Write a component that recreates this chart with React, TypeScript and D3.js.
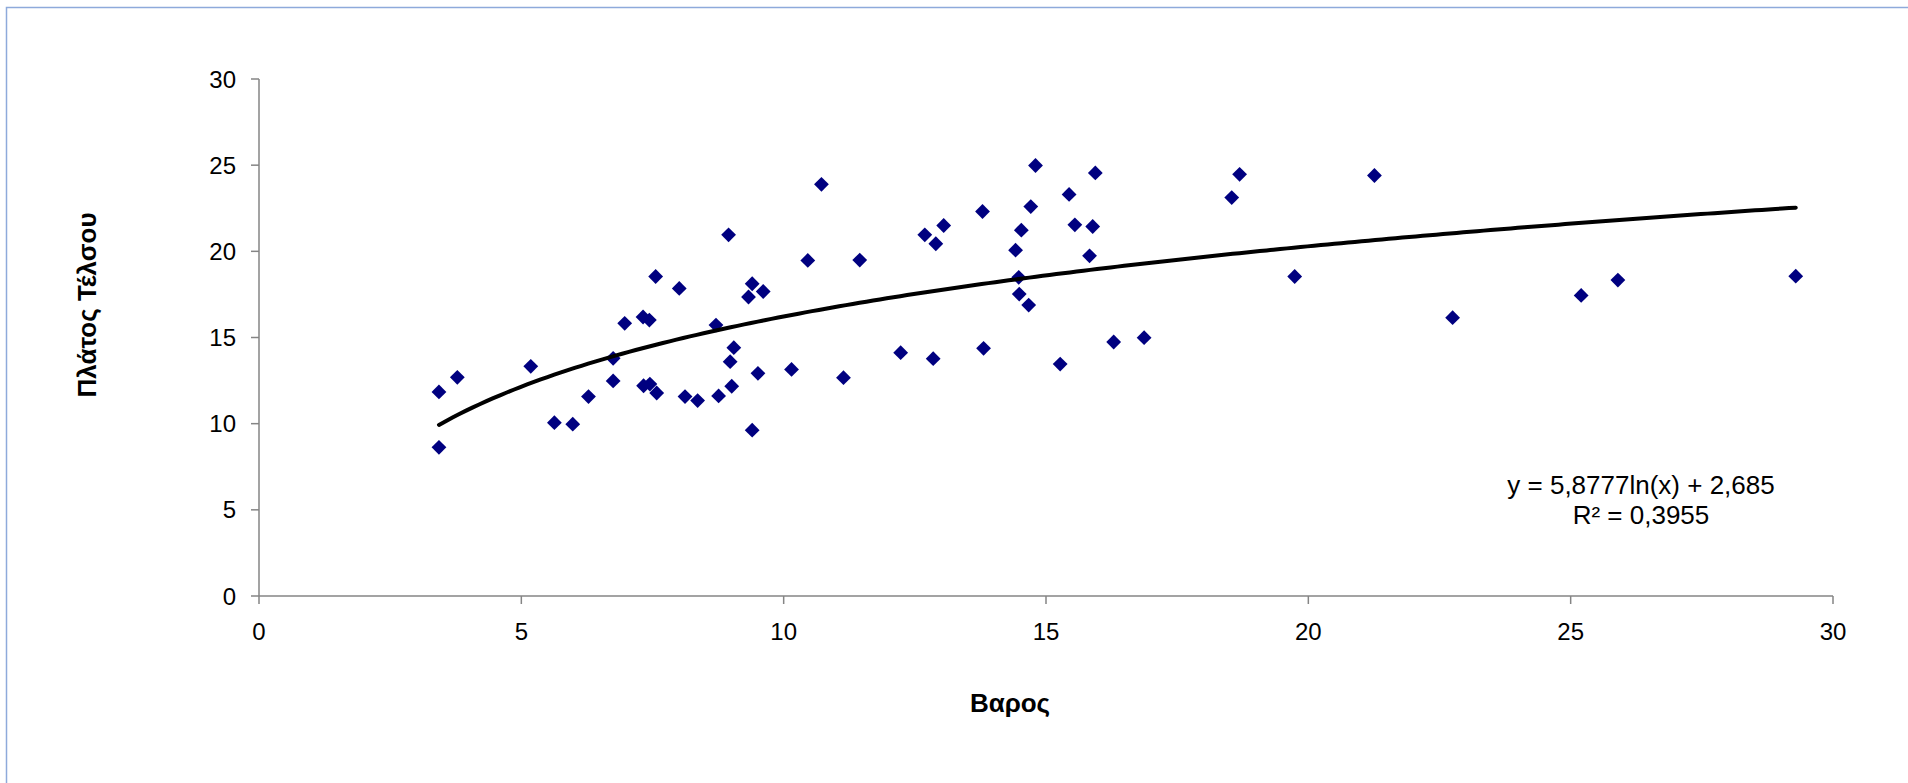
import React from "react";
import * as d3 from "d3";

const weightX: number[] = [
  3.43, 3.78, 3.43, 5.18, 5.63, 5.98, 6.28, 6.75, 6.75, 6.97,
  7.32, 7.44, 7.56, 8.01, 7.33, 7.45, 7.58, 8.12, 8.36, 8.71,
  8.76, 8.95, 9.05, 8.98, 9.01, 9.40, 9.33, 9.61, 9.51, 9.40,
  10.15, 10.46, 10.72, 11.14, 11.45, 12.23, 12.69, 12.85, 12.90, 13.05,
  13.79, 13.81, 14.42, 14.48, 14.49, 14.53, 14.67, 14.71, 14.80, 15.27,
  15.44, 15.55, 15.83, 15.89, 15.94, 16.29, 16.87, 18.54, 18.69, 19.74,
  21.26, 22.75, 25.20, 25.90, 29.29,
];
const widthY: number[] = [
  11.84, 12.69, 8.63, 13.33, 10.06, 9.97, 11.57, 13.79, 12.48, 15.82,
  16.19, 16.01, 18.54, 17.85, 12.20, 12.30, 11.78, 11.57, 11.34, 15.72,
  11.61, 20.96, 14.41, 13.60, 12.17, 18.12, 17.35, 17.67, 12.92, 9.62,
  13.15, 19.47, 23.89, 12.67, 19.49, 14.12, 20.96, 13.77, 20.44, 21.50,
  22.31, 14.37, 20.07, 18.49, 17.52, 21.23, 16.88, 22.60, 24.98, 13.46,
  23.30, 21.54, 19.74, 21.44, 24.55, 14.74, 14.99, 23.12, 24.47, 18.54,
  24.40, 16.15, 17.44, 18.33, 18.56,
];
const xTicks: number[] = [0, 5, 10, 15, 20, 25, 30];
const yTicks: number[] = [0, 5, 10, 15, 20, 25, 30];
const trendA = 5.8777;
const trendB = 2.685;
const xTitle = "Βαρος";
const yTitle = "Πλάτος Τέλσου";
const eqLine1 = "y = 5,8777ln(x) + 2,685";
const eqLine2 = "R² = 0,3955";

const W = 1908;
const H = 783;
const FONT = "'Liberation Sans', Arial, sans-serif";

export default function App() {
  const x = d3.scaleLinear().domain([0, 30]).range([259, 1833]);
  const y = d3.scaleLinear().domain([0, 30]).range([596, 79]);

  const xmin = d3.min(weightX) as number;
  const xmax = d3.max(weightX) as number;
  const trendPts: [number, number][] = d3
    .range(0, 201)
    .map((i) => xmin + ((xmax - xmin) * i) / 200)
    .map((v) => [v, trendA * Math.log(v) + trendB]);
  const line = d3
    .line<[number, number]>()
    .x((d) => x(d[0]))
    .y((d) => y(d[1]));

  const r = 7.4;
  const diamond = d3.symbol().type(d3.symbolDiamond2).size(Math.pow(r / 0.62625, 2))();

  const data = weightX.map((v, i) => ({ x: v, y: widthY[i] }));

  return (
    <svg
      width={W}
      height={H}
      style={{ position: "absolute", left: 0, top: 0, display: "block", background: "#fff" }}
    >
      <rect x={6.5} y={7.5} width={W + 20} height={H + 20} fill="#fff" stroke="#8eaadb" strokeWidth={1.5} />

      {/* axes */}
      <line x1={x(0)} x2={x(30)} y1={y(0)} y2={y(0)} stroke="#858585" strokeWidth={1.5} />
      <line x1={x(0)} x2={x(0)} y1={y(0)} y2={y(30)} stroke="#858585" strokeWidth={1.5} />
      {xTicks.map((t) => (
        <g key={"xt" + t}>
          <line x1={x(t)} x2={x(t)} y1={y(0)} y2={y(0) + 8} stroke="#858585" strokeWidth={1.5} />
          <text x={x(t)} y={640} textAnchor="middle" fontFamily={FONT} fontSize={24} fill="#000">
            {t}
          </text>
        </g>
      ))}
      {yTicks.map((t) => (
        <g key={"yt" + t}>
          <line x1={x(0) - 8} x2={x(0)} y1={y(t)} y2={y(t)} stroke="#858585" strokeWidth={1.5} />
          <text x={236} y={y(t) + 8.5} textAnchor="end" fontFamily={FONT} fontSize={24} fill="#000">
            {t}
          </text>
        </g>
      ))}

      {/* points */}
      {data.map((d, i) => (
        <path key={i} d={diamond as string} transform={`translate(${x(d.x)},${y(d.y)})`} fill="#000080" />
      ))}

      {/* trendline */}
      <path d={line(trendPts) as string} fill="none" stroke="#000" strokeWidth={4} strokeLinecap="round" />

      {/* equation */}
      <text x={1641} y={494} textAnchor="middle" fontFamily={FONT} fontSize={26} fill="#000">
        {eqLine1}
      </text>
      <text x={1641} y={524} textAnchor="middle" fontFamily={FONT} fontSize={26} fill="#000">
        {eqLine2}
      </text>

      {/* titles */}
      <text x={1010} y={712} textAnchor="middle" fontFamily={FONT} fontSize={26} fontWeight="bold" fill="#000">
        {xTitle}
      </text>
      <text
        transform={`translate(96,305) rotate(-90)`}
        textAnchor="middle"
        fontFamily={FONT}
        fontSize={26}
        fontWeight="bold"
        fill="#000"
      >
        {yTitle}
      </text>
    </svg>
  );
}
